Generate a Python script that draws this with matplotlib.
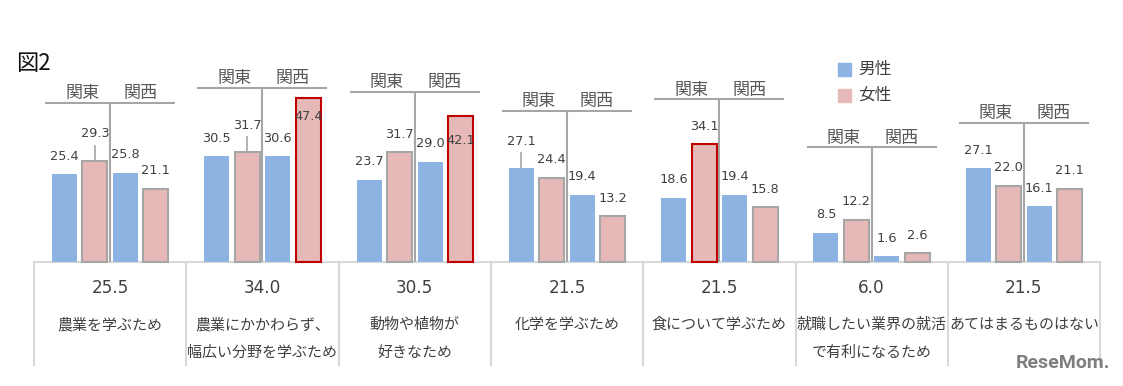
import matplotlib
matplotlib.use("Agg")
import matplotlib.pyplot as plt
from matplotlib.patches import Rectangle

# ---------------- data ----------------
categories = ['農業を学ぶため', '農業にかかわらず、\n幅広い分野を学ぶため', '動物や植物が\n好きなため',
              '化学を学ぶため', '食について学ぶため', '就職したい業界の就活\nで有利になるため',
              'あてはまるものはない']
overall = [25.5, 34.0, 30.5, 21.5, 21.5, 6.0, 21.5]
kanto_male = [25.4, 30.5, 23.7, 27.1, 18.6, 8.5, 27.1]
kanto_female = [29.3, 31.7, 31.7, 24.4, 34.1, 12.2, 22.0]
kansai_male = [25.8, 30.6, 29.0, 19.4, 19.4, 1.6, 16.1]
kansai_female = [21.1, 47.4, 42.1, 13.2, 15.8, 2.6, 21.1]
region_labels = ['関東', '関西']
legend_labels = ['男性', '女性']
title = '図2'
highlighted = [(1, 3), (2, 3), (4, 1)]   # (group, bar) with red outline

# ---------------- layout / style ----------------
W, H = 1123, 386
PX_PER_UNIT = 3.46          # vertical pixels per percent
GROUP_PX = 152.3            # width of one group in pixels
LEFT_PX = 34
BASE_PX = 262               # baseline y in pixels from top

BLUE = '#8DB3E2'
PINK = '#E6B9B8'
PINK_EDGE = '#A6A6A6'
RED = '#C00000'
LINE_GRAY = '#A6A6A6'
TABLE_GRAY = '#D9D9D9'
TEXT = '#404040'

bracket_y = [46.0, 50.4, 49.2, 43.7, 47.1, 33.2, 40.3]
leader_bars = [(0, 1), (1, 1), (3, 0)]
inside_bars = {(1, 3): -19, (2, 3): -24}

CJK = ['Noto Sans CJK JP', 'DejaVu Sans']

fig = plt.figure(figsize=(W / 100, H / 100), dpi=100)
ax = fig.add_axes([0, 0, 1, 1])
ax.set_xlim(-LEFT_PX / GROUP_PX, (W - LEFT_PX) / GROUP_PX)
ax.set_ylim(-(H - BASE_PX) / PX_PER_UNIT, BASE_PX / PX_PER_UNIT)
ax.axis('off')

pitch = 30.5 / GROUP_PX
bw = 25 / GROUP_PX
series = [kanto_male, kanto_female, kansai_male, kansai_female]
colors = [BLUE, PINK, BLUE, PINK]
offsets = [-1.5, -0.5, 0.5, 1.5]

def px(n):
    return n / PX_PER_UNIT

for g in range(len(categories)):
    cx = g + 0.5
    for s, vals in enumerate(series):
        x = cx + offsets[s] * pitch
        v = vals[g]
        if (g, s) in highlighted:
            ec, lw = RED, 1.5
        elif colors[s] == PINK:
            ec, lw = PINK_EDGE, 1.5
        else:
            ec, lw = 'none', 0
        ax.bar(x, v, width=bw, color=colors[s], edgecolor=ec, linewidth=lw, zorder=3)
        dy = 18
        if (g, s) in leader_bars:
            dy = 27
            ax.plot([x, x], [v, v + px(15)], color=LINE_GRAY, lw=1.2, zorder=2)
        if (g, s) in inside_bars:
            dy = inside_bars[(g, s)]
        ax.annotate(f'{v:.1f}', (x, v), xytext=(0, dy), textcoords='offset pixels',
                    ha='center', va='center', fontsize=9.3, color=TEXT,
                    family='DejaVu Sans', zorder=5)
    # bracket
    by = bracket_y[g]
    half = 65 / GROUP_PX
    ax.plot([cx - half, cx + half], [by, by], color=LINE_GRAY, lw=1.5, zorder=2,
            solid_capstyle='butt')
    ax.plot([cx, cx], [0, by], color=LINE_GRAY, lw=1.5, zorder=2, solid_capstyle='butt')
    ax.text(cx - 28 / GROUP_PX, by + px(9.5), region_labels[0], ha='center', va='center',
            fontsize=12.3, color='#595959', family=CJK)
    ax.text(cx + 30 / GROUP_PX, by + px(9.5), region_labels[1], ha='center', va='center',
            fontsize=12.3, color='#595959', family=CJK)
    # table cell text
    ax.text(cx, -px(288 - BASE_PX), f'{overall[g]:.1f}', ha='center', va='center',
            fontsize=12.2, color=TEXT, family='DejaVu Sans')
    for i, line in enumerate(categories[g].split('\n')):
        ax.text(cx, -px(325 - BASE_PX + i * 28), line, ha='center', va='center',
                fontsize=10.8, color=TEXT, family=CJK)

# table lines
n = len(categories)
ax.plot([0, n], [0, 0], color=TABLE_GRAY, lw=1.5, zorder=1)
for i in range(n + 1):
    ax.plot([i, i], [0, -px(365 - BASE_PX)], color=TABLE_GRAY, lw=1.5, zorder=1)

# title
fig.text(16 / W, 1 - 64 / H, title, ha='left', va='center', fontsize=16,
         color='#111111', family=CJK)

# legend
for i, (lab, col) in enumerate(zip(legend_labels, [BLUE, PINK])):
    yc = 69 + i * 26
    fig.patches.append(Rectangle((838 / W, 1 - (yc + 6.5) / H), 13 / W, 13 / H,
                                 transform=fig.transFigure, color=col, zorder=5))
    fig.text(858 / W, 1 - yc / H, lab, ha='left', va='center', fontsize=12,
             color=TEXT, family=CJK)

# watermark
fig.text(1110 / W, 1 - 363 / H, 'ReseMom.', ha='right', va='center', fontsize=14,
         fontweight='bold', color='#7F7F7F', family=['Roboto', 'DejaVu Sans'])

fig.savefig('out.png', dpi=100, facecolor='white')
